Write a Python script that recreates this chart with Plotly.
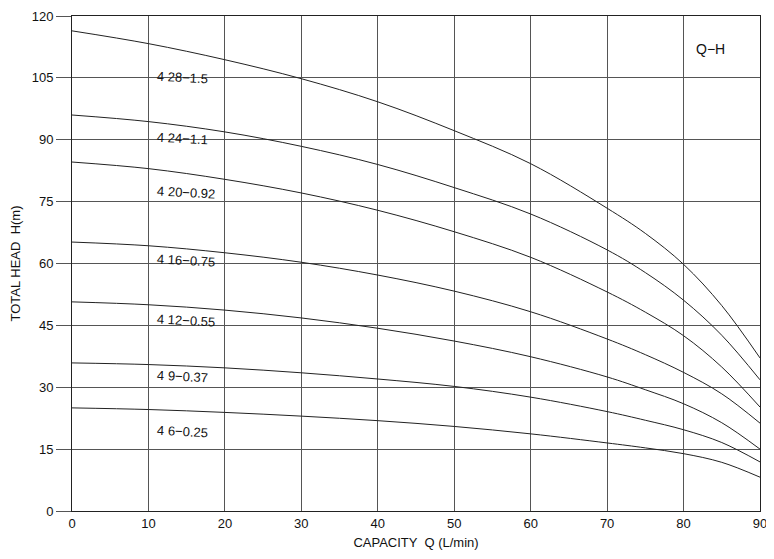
import plotly.graph_objects as go

capacity = [0, 10, 20, 30, 40, 50, 60, 70, 75, 80, 85, 90]
labels = ["4 28−1.5", "4 24−1.1", "4 20−0.92", "4 16−0.75", "4 12−0.55", "4 9−0.37", "4 6−0.25"]
head_28 = [116.4, 113.3, 109.4, 104.8, 99.2, 92.2, 84.2, 73.4, 67.3, 59.8, 49.8, 37.1]
head_24 = [96.0, 94.4, 91.9, 88.4, 84.0, 78.4, 72.0, 63.3, 57.8, 51.1, 42.6, 31.8]
head_20 = [84.6, 83.0, 80.4, 77.1, 72.9, 67.7, 61.5, 53.1, 48.2, 42.5, 34.9, 25.2]
head_16 = [65.2, 64.3, 62.6, 60.3, 57.2, 53.3, 48.3, 41.7, 37.9, 33.6, 28.4, 21.3]
head_12 = [50.7, 50.0, 48.7, 46.8, 44.3, 41.2, 37.4, 32.5, 29.4, 26.0, 21.4, 15.0]
head_9 = [35.9, 35.5, 34.7, 33.5, 32.0, 30.2, 27.6, 24.1, 22.0, 19.7, 16.6, 11.9]
head_6 = [25.0, 24.6, 23.9, 23.0, 21.9, 20.5, 18.7, 16.5, 15.3, 13.9, 11.8, 8.2]
label_x = [10.8] * 7
label_y = [105.2, 90.4, 77.1, 60.8, 46.3, 32.5, 19.2]
x_ticks = [0, 10, 20, 30, 40, 50, 60, 70, 80, 90]
y_ticks = [0, 15, 30, 45, 60, 75, 90, 105, 120]

series = [head_28, head_24, head_20, head_16, head_12, head_9, head_6]

fig = go.Figure()
for name, ys in zip(labels, series):
    fig.add_trace(go.Scatter(x=capacity, y=ys, mode="lines", name=name,
                             line=dict(color="#222222", width=1, shape="spline", smoothing=1.0),
                             showlegend=False, hoverinfo="skip"))

for txt, lx, ly in zip(labels, label_x, label_y):
    fig.add_annotation(x=lx, y=ly, text=txt, showarrow=False, xanchor="left", yanchor="middle",
                       textangle=3, font=dict(family="Liberation Sans, Arial", size=13, color="#111111"))

fig.add_annotation(x=83.5, y=112, text="Q−H", showarrow=False, xanchor="center", yanchor="middle",
                   font=dict(family="Liberation Sans, Arial", size=14, color="#111111"))

grid = "#555555"
fig.update_layout(
    width=766, height=551,
    margin=dict(l=64, r=14, t=8, b=48),
    paper_bgcolor="white", plot_bgcolor="white",
    font=dict(family="Liberation Sans, Arial", size=13, color="#111111"),
    xaxis=dict(range=[0, 90], tickvals=x_ticks, showgrid=True, gridcolor=grid, gridwidth=1,
               showline=True, linecolor="#222222", linewidth=1, mirror=True, zeroline=False,
               ticks="", automargin=False,
               title=dict(text="CAPACITY  Q (L/min)", standoff=8, font=dict(size=13))),
    yaxis=dict(range=[0, 120], tickvals=y_ticks, showgrid=True, gridcolor=grid, gridwidth=1,
               showline=True, linecolor="#222222", linewidth=1, mirror=True, zeroline=False,
               ticks="outside", ticklen=15, tickcolor=grid, automargin=False,
               title=dict(text="TOTAL HEAD  H(m)", standoff=12, font=dict(size=13))),
)

fig.write_html("out.html")
